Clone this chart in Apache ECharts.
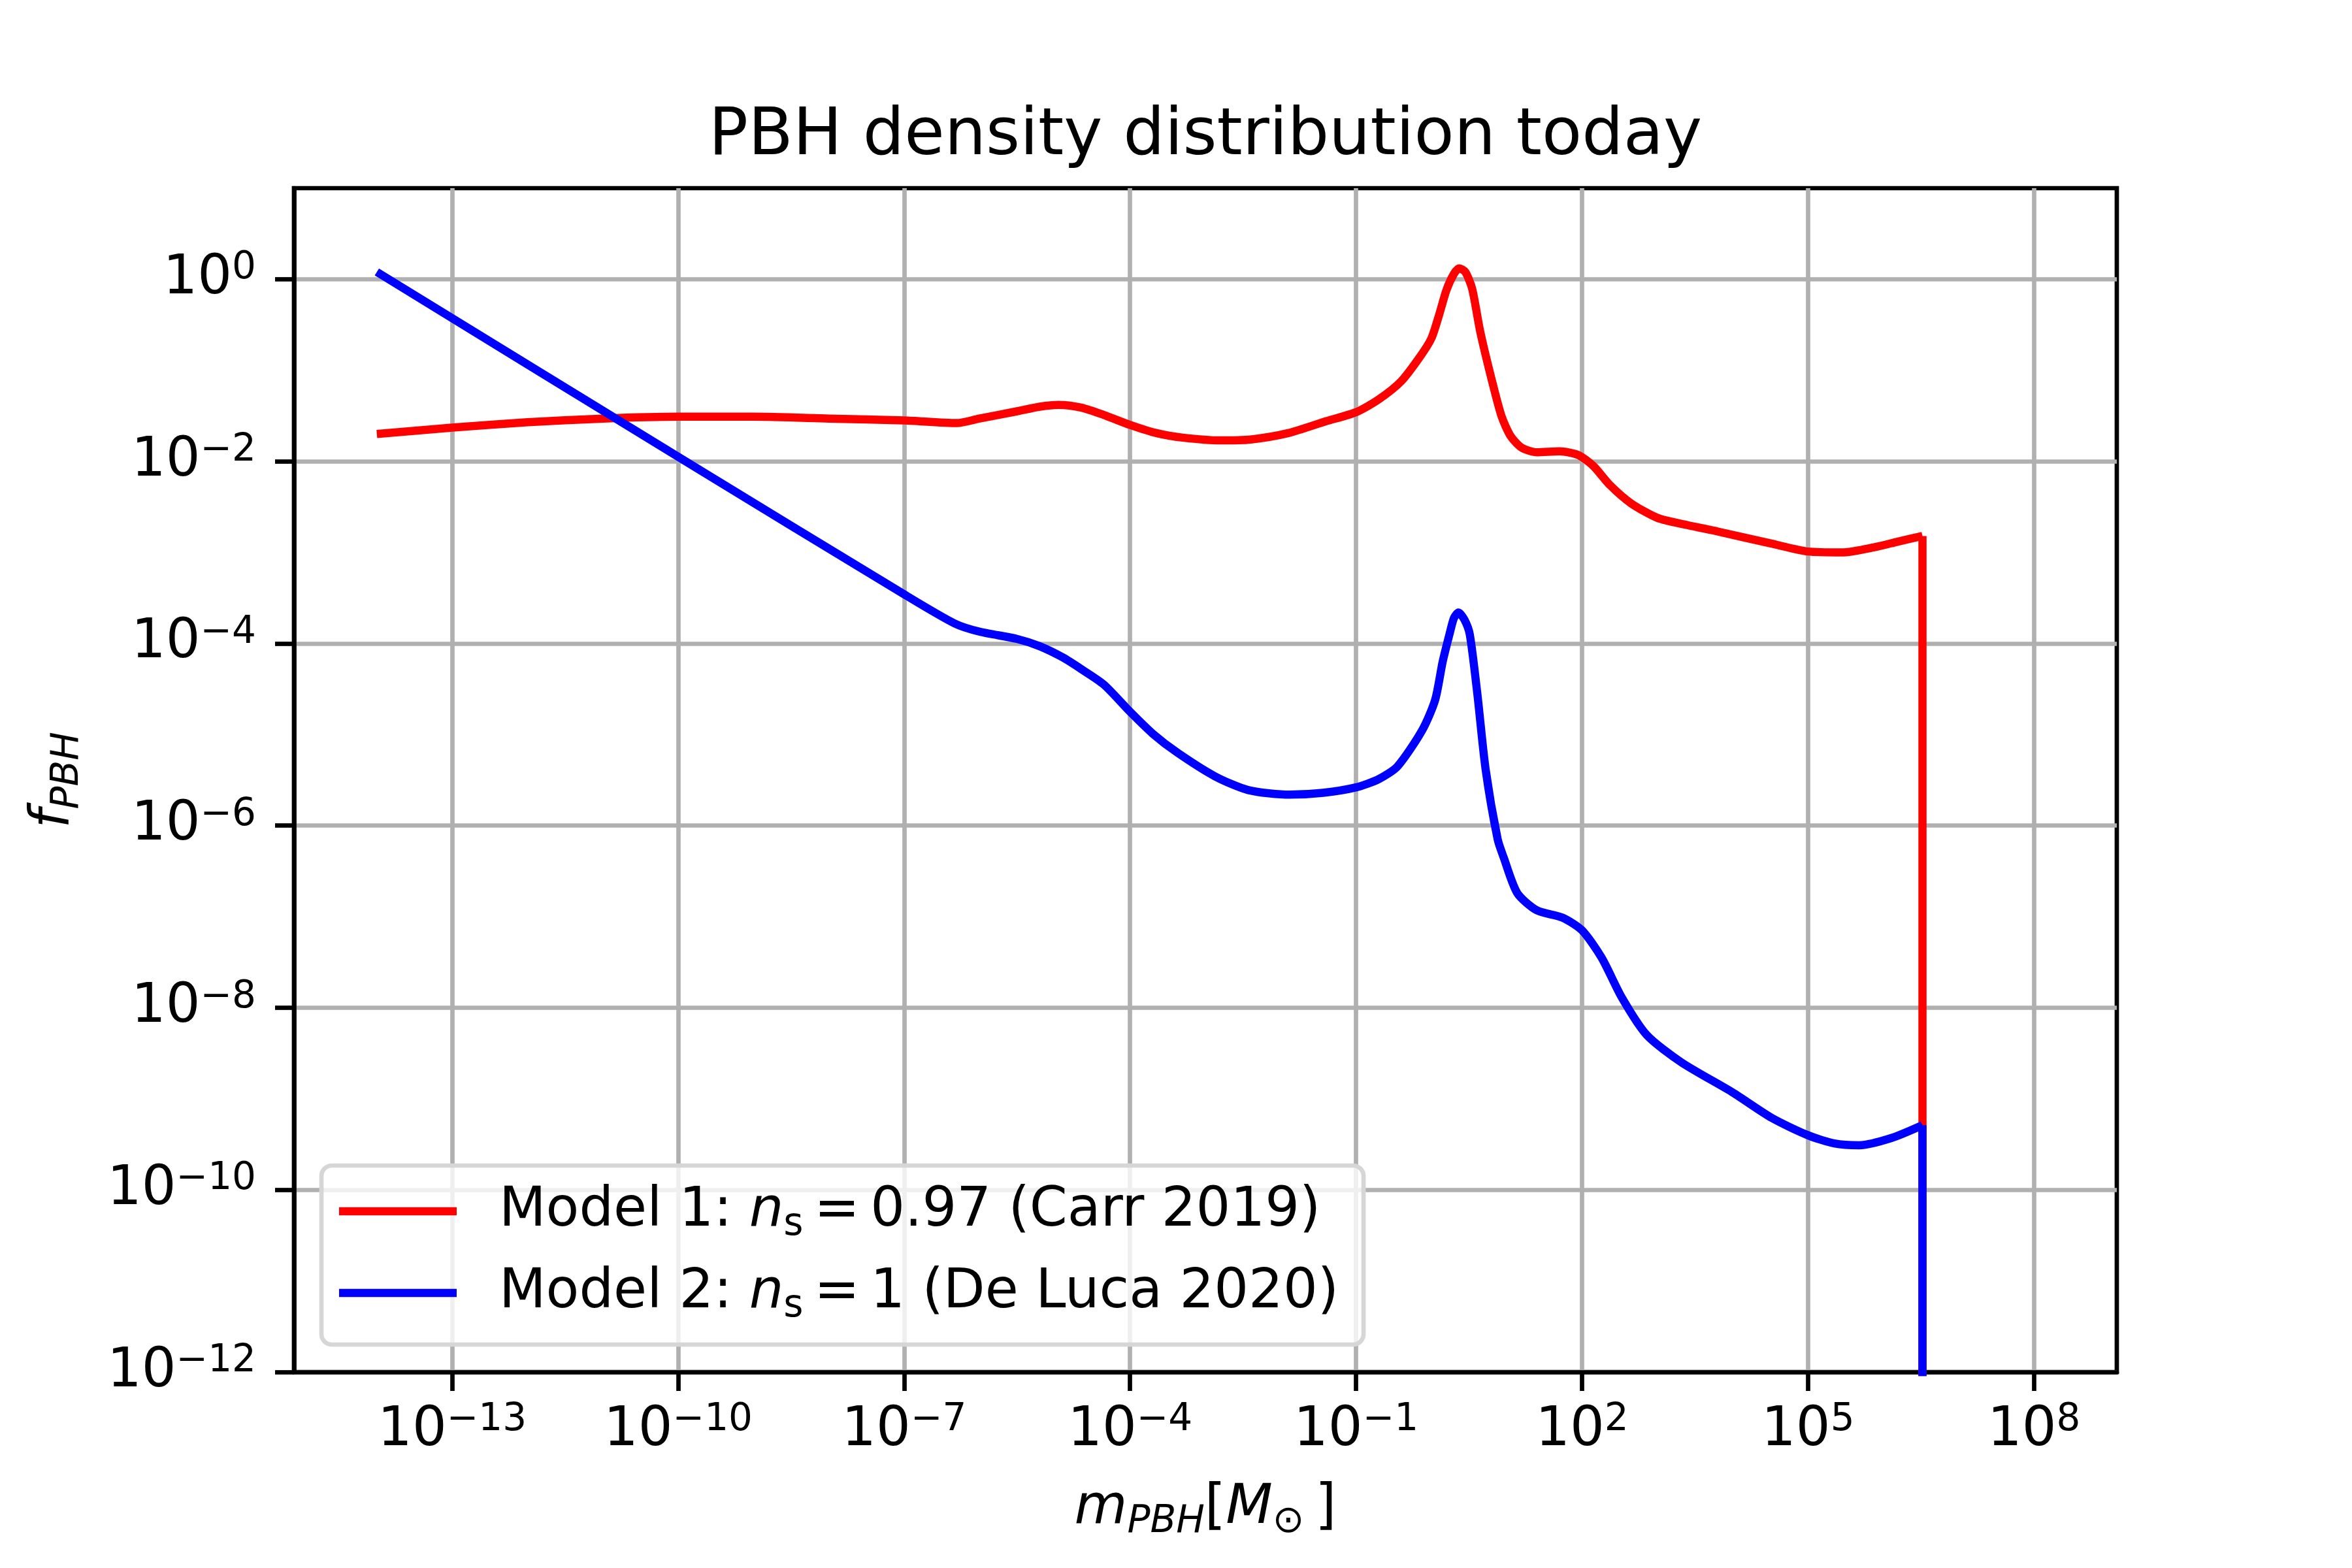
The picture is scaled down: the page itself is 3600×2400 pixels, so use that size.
<!DOCTYPE html>
<html>
<head>
<meta charset="utf-8">
<title>PBH density distribution today</title>
<script src="https://cdn.jsdelivr.net/npm/echarts@6/dist/echarts.min.js"></script>
<style>
html, body { margin: 0; padding: 0; background: #fff; }
#chart { width: 3600px; height: 2400px; }
</style>
</head>
<body>
<div id="chart"></div>
<script>
// values, as powers of ten (log10 of mass in M_sun, log10 of f_PBH)
var logMass1 = [-14.0, -13.0, -12.0, -11.0, -10.0, -9.0, -8.0, -7.0, -6.3, -6.0, -5.5, -5.2, -4.95, -4.65, -4.35, -4.0,
    -3.65, -3.3, -2.8, -2.4, -1.9, -1.4, -1.0, -0.7, -0.4, -0.15, 0.0, 0.1, 0.2, 0.3, 0.37, 0.45, 0.54, 0.65, 0.8, 0.93,
    1.05, 1.2, 1.4, 1.7, 1.95, 2.15, 2.37, 2.65, 3.0, 3.4, 3.8, 4.5, 5.0, 5.45, 5.9, 6.2, 6.52];
var logFrac1 = [-1.70, -1.63, -1.57, -1.53, -1.51, -1.51, -1.53, -1.55, -1.58, -1.53, -1.45, -1.40, -1.38, -1.41, -1.49, -1.60,
    -1.69, -1.74, -1.77, -1.76, -1.69, -1.56, -1.46, -1.32, -1.12, -0.85, -0.65, -0.40, -0.12, 0.06, 0.12, 0.08, -0.10, -0.58, -1.10, -1.50,
    -1.72, -1.85, -1.90, -1.89, -1.93, -2.05, -2.26, -2.46, -2.62, -2.70, -2.77, -2.90, -2.99, -3.00, -2.94, -2.88, -2.82];

var logMass2 = [-14.0, -10.0, -7.0, -6.33, -6.0, -5.5, -5.2, -4.9, -4.65, -4.35, -4.0, -3.7, -3.37, -2.87, -2.43, -1.88,
    -1.44, -1.0, -0.7, -0.45, -0.12, 0.05, 0.15, 0.24, 0.3, 0.36, 0.44, 0.51, 0.61, 0.72, 0.88, 0.96, 1.14, 1.4, 1.74,
    2.0, 2.26, 2.53, 2.86, 3.32, 4.0, 4.52, 5.0, 5.35, 5.68, 6.11, 6.52];
var logFrac2 = [0.08, -1.95, -3.46, -3.78, -3.87, -3.95, -4.03, -4.15, -4.28, -4.45, -4.75, -4.99, -5.20, -5.46, -5.61, -5.66,
    -5.64, -5.58, -5.49, -5.35, -4.95, -4.62, -4.20, -3.90, -3.72, -3.66, -3.74, -3.90, -4.55, -5.38, -6.15, -6.35, -6.74, -6.93, -7.01,
    -7.15, -7.45, -7.89, -8.30, -8.60, -8.93, -9.21, -9.40, -9.49, -9.51, -9.43, -9.29];

// above the largest mass both models are zero (drawn as a drop off the axis)
var zeroFrac = 1e-30;

var seriesNames = ['Model 1', 'Model 2'];
var nsValues = ['0.97', '1'];
var references = ['Carr 2019', 'De Luca 2020'];
var lineColors = ['#ff0000', '#0000ff'];

var xTickExp = [-13, -10, -7, -4, -1, 2, 5, 8];
var yTickExp = [-12, -10, -8, -6, -4, -2, 0];

var FONT = 'DejaVu Sans';

function toPoints(logX, logY) {
    var out = [];
    for (var i = 0; i < logX.length; i++) {
        out.push([Math.pow(10, logX[i]), Math.pow(10, logY[i])]);
    }
    return out;
}

function dropPoints(logX, logY) {
    var n = logX.length - 1;
    var x = Math.pow(10, logX[n]);
    return [[x, Math.pow(10, logY[n])], [x, zeroFrac]];
}

function decade(e) {
    return parseFloat('1e' + e);
}

function powLabel(v) {
    var e = Math.round(Math.log(v) / Math.LN10);
    var s = e < 0 ? '\u2212' + (-e) : '' + e;
    return '{b|10}{s|' + s + '}';
}

var tickRich = {
    b: { fontFamily: FONT, fontSize: 83, lineHeight: 90, color: '#000', verticalAlign: 'middle' },
    s: { fontFamily: FONT, fontSize: 58, lineHeight: 32, color: '#000', verticalAlign: 'top' }
};

var gridLine = { show: true, lineStyle: { color: '#b0b0b0', width: 6.7 } };
var tickStyle = { color: '#000', width: 6.7 };

var chart = echarts.init(document.getElementById('chart'), null, { renderer: 'canvas' });

var series = [];
var pairs = [[logMass1, logFrac1], [logMass2, logFrac2]];
for (var k = 0; k < 2; k++) {
    series.push({
        name: seriesNames[k],
        type: 'line',
        data: toPoints(pairs[k][0], pairs[k][1]),
        showSymbol: false,
        symbol: 'none',
        smooth: 0.25,
        clip: true,
        itemStyle: { color: lineColors[k] },
        lineStyle: { color: lineColors[k], width: 12.5, cap: 'butt', join: 'round' },
        z: 2 + k * 2
    });
    series.push({
        name: seriesNames[k],
        type: 'line',
        data: dropPoints(pairs[k][0], pairs[k][1]),
        showSymbol: false,
        symbol: 'none',
        clip: true,
        itemStyle: { color: lineColors[k] },
        lineStyle: { color: lineColors[k], width: 12.5, join: 'round' },
        z: 3 + k * 2
    });
}

var option = {
    animation: false,
    backgroundColor: '#ffffff',
    textStyle: { fontFamily: FONT },
    title: {
        text: 'PBH density distribution today',
        left: 1845,
        top: 160,
        textAlign: 'center',
        padding: 0,
        textStyle: { fontFamily: FONT, fontSize: 100, fontWeight: 'normal', color: '#000', lineHeight: 100 }
    },
    grid: {
        left: 450, right: 360, top: 288, bottom: 300,
        show: true,
        borderColor: '#000',
        borderWidth: 6.7,
        backgroundColor: 'rgba(0,0,0,0)',
        containLabel: false,
        outerBoundsMode: 'none'
    },
    legend: {
        data: seriesNames,
        orient: 'vertical',
        left: 492,
        top: 1784,
        padding: [20, 38, 29, 27],
        itemWidth: 180,
        itemHeight: 12.5,
        itemGap: 25,
        icon: 'rect',
        selectedMode: false,
        backgroundColor: 'rgba(255,255,255,0.8)',
        borderColor: '#d6d6d6',
        borderWidth: 6.7,
        borderRadius: 16,
        itemStyle: { borderWidth: 0 },
        formatter: function (name) {
            var i = seriesNames.indexOf(name);
            return name + ': {i|n}{s|s}\u2009=\u2009' + nsValues[i] + ' (' + references[i] + ')';
        },
        textStyle: {
            fontFamily: FONT, fontSize: 83, lineHeight: 100, color: '#000',
            padding: [0, 0, 0, 60],
            rich: {
                i: { fontFamily: FONT, fontSize: 83, lineHeight: 100, fontStyle: 'italic', color: '#000', verticalAlign: 'middle' },
                s: { fontFamily: FONT, fontSize: 58, lineHeight: 60, color: '#000', verticalAlign: 'bottom' }
            }
        }
    },
    xAxis: {
        type: 'log',
        logBase: 10,
        min: Math.pow(10, -15.1),
        max: Math.pow(10, 9.1),
        axisLine: { show: true, lineStyle: tickStyle },
        axisTick: { show: true, inside: false, length: 29, lineStyle: tickStyle, customValues: xTickExp.map(decade) },
        minorTick: { show: false },
        axisLabel: { show: true, margin: 45, customValues: xTickExp.map(decade), formatter: powLabel, rich: tickRich },
        splitLine: gridLine,
        minorSplitLine: { show: false },
        name: '{i|m}{sub|PBH}{n|[}{i|M}{sub|\u2299}{n|\u2009]}',
        nameLocation: 'middle',
        nameGap: 159,
        nameTextStyle: {
            fontFamily: FONT, fontSize: 83, lineHeight: 100, color: '#000',
            rich: {
                i: { fontFamily: FONT, fontSize: 83, lineHeight: 100, fontStyle: 'italic', color: '#000', verticalAlign: 'middle' },
                n: { fontFamily: FONT, fontSize: 83, lineHeight: 100, color: '#000', verticalAlign: 'middle' },
                sub: { fontFamily: FONT, fontSize: 58, lineHeight: 62, fontStyle: 'italic', color: '#000', verticalAlign: 'bottom' }
            }
        }
    },
    yAxis: {
        type: 'log',
        logBase: 10,
        min: decade(-12),
        max: decade(1),
        axisLine: { show: true, lineStyle: tickStyle },
        axisTick: { show: true, inside: false, length: 29, lineStyle: tickStyle, customValues: yTickExp.map(decade) },
        minorTick: { show: false },
        axisLabel: { show: true, margin: 58, customValues: yTickExp.map(decade), formatter: powLabel, rich: tickRich },
        splitLine: gridLine,
        minorSplitLine: { show: false },
        name: '{i|f}{sub|PBH}',
        nameLocation: 'middle',
        nameRotate: 90,
        nameGap: 317,
        nameTextStyle: {
            fontFamily: FONT, fontSize: 83, lineHeight: 100, color: '#000',
            rich: {
                i: { fontFamily: FONT, fontSize: 83, lineHeight: 100, fontStyle: 'italic', color: '#000', verticalAlign: 'middle' },
                sub: { fontFamily: FONT, fontSize: 58, lineHeight: 57, fontStyle: 'italic', color: '#000', verticalAlign: 'bottom' }
            }
        }
    },
    series: series
};

chart.setOption(option);
</script>
</body>
</html>
